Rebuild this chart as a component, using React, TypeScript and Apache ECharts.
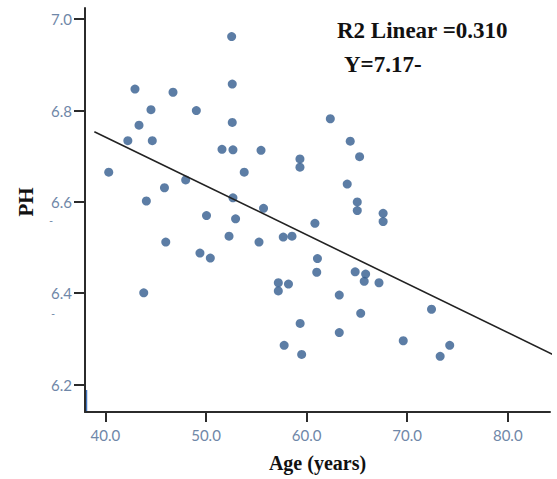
import React, { useEffect, useRef } from "react";
import * as echarts from "echarts";

const ages = [52.55, 42.94, 46.72, 52.61, 44.53, 49.04, 43.34, 52.61, 42.23, 44.66, 51.59, 52.68, 55.47, 40.33, 53.8, 47.98, 45.87, 52.68, 44.07, 55.72, 50.05, 52.94, 46.0, 49.4, 50.43, 52.29, 55.27, 43.81, 62.36, 64.34, 65.27, 59.34, 59.34, 64.04, 65.04, 65.04, 67.61, 67.61, 60.83, 57.68, 58.55, 61.08, 61.01, 64.83, 65.87, 65.73, 67.2, 57.19, 57.19, 58.2, 63.25, 72.42, 65.38, 59.36, 63.25, 69.61, 74.23, 57.77, 73.28, 59.51];
const phValues = [6.962, 6.847, 6.84, 6.858, 6.802, 6.8, 6.768, 6.774, 6.734, 6.734, 6.715, 6.714, 6.713, 6.665, 6.665, 6.648, 6.631, 6.609, 6.602, 6.586, 6.57, 6.563, 6.512, 6.488, 6.477, 6.525, 6.512, 6.401, 6.782, 6.733, 6.699, 6.694, 6.676, 6.639, 6.6, 6.581, 6.575, 6.557, 6.553, 6.523, 6.525, 6.476, 6.446, 6.447, 6.442, 6.426, 6.423, 6.423, 6.405, 6.42, 6.396, 6.365, 6.356, 6.334, 6.314, 6.296, 6.286, 6.286, 6.262, 6.266];

const xTicks = [40, 50, 60, 70, 80];
const yTicks = [6.2, 6.4, 6.6, 6.8, 7.0];

const fitIntercept = 7.17;
const fitSlope = -0.0107;
const fitRange = [38.9, 84.9];

const labelColor = "#6f87a8";

export default function App() {
  const ref = useRef<HTMLDivElement>(null);
  useEffect(() => {
    if (!ref.current) return;
    const chart = echarts.init(ref.current, null, { renderer: "svg" });
    const points = ages.map((a, i) => [a, phValues[i]]);
    const fitLine = fitRange.map((x) => [x, fitIntercept + fitSlope * x]);
    chart.setOption({
      animation: false,
      backgroundColor: "#ffffff",
      grid: { left: 85, right: 7, top: 8, bottom: 67, containLabel: false },
      xAxis: {
        type: "value",
        min: 37.97,
        max: 84.2,
        name: "Age (years)",
        nameLocation: "middle",
        nameGap: 41,
        nameTextStyle: { fontFamily: "Liberation Serif", fontWeight: "bold", fontSize: 20, color: "#111" },
        splitLine: { show: false },
        axisLine: { show: true, lineStyle: { color: "#2b2b2b", width: 2 } },
        axisTick: { show: true, customValues: xTicks, length: 10, lineStyle: { color: "#2b2b2b", width: 2 } },
        axisLabel: {
          customValues: xTicks,
          margin: 15,
          fontSize: 15,
          fontFamily: "Lato",
          color: labelColor,
          formatter: (v: number) => v.toFixed(1),
        },
      },
      yAxis: {
        type: "value",
        min: 6.14,
        max: 7.0245,
        splitLine: { show: false },
        axisLine: { show: true, lineStyle: { color: "#2b2b2b", width: 2 } },
        axisTick: { show: true, customValues: yTicks, length: 11, lineStyle: { color: "#2b2b2b", width: 2 } },
        axisLabel: {
          customValues: yTicks,
          margin: 13,
          fontSize: 15,
          fontFamily: "Lato",
          color: labelColor,
          formatter: (v: number) => v.toFixed(1),
        },
      },
      series: [
        {
          type: "scatter",
          data: points,
          symbol: "circle",
          symbolSize: 9,
          itemStyle: { color: "#335d8f" },
        },
        {
          type: "line",
          data: fitLine,
          clip: false,
          symbol: "none",
          lineStyle: { color: "#222222", width: 1.6 },
        },
      ],
      graphic: [
        {
          type: "text",
          x: 26,
          y: 202,
          rotation: Math.PI / 2,
          style: {
            text: "PH",
            fontFamily: "Liberation Serif",
            fontWeight: "bold",
            fontSize: 21,
            fill: "#111",
            textAlign: "center",
            textVerticalAlign: "middle",
          },
        },
        {
          type: "text",
          x: 337,
          y: 30,
          style: {
            text: "R2 Linear =0.310",
            fontFamily: "Liberation Serif",
            fontWeight: "bold",
            fontSize: 23,
            fill: "#111",
            textAlign: "left",
            textVerticalAlign: "middle",
          },
        },
        {
          type: "text",
          x: 344,
          y: 64,
          style: {
            text: "Y=7.17-",
            fontFamily: "Liberation Serif",
            fontWeight: "bold",
            fontSize: 23,
            fill: "#111",
            textAlign: "left",
            textVerticalAlign: "middle",
          },
        },
        {
          type: "text",
          x: 51,
          y: 220,
          style: { text: "-", fontSize: 11, fill: labelColor, textAlign: "center", textVerticalAlign: "middle" },
        },
        {
          type: "text",
          x: 53,
          y: 313,
          style: { text: "-", fontSize: 11, fill: labelColor, textAlign: "center", textVerticalAlign: "middle" },
        },
        {
          type: "line",
          shape: { x1: 74, y1: 19, x2: 85, y2: 19 },
          style: { stroke: "#4f7fbf", lineWidth: 2 },
        },
        {
          type: "line",
          shape: { x1: 86.5, y1: 390, x2: 86.5, y2: 411 },
          style: { stroke: "#3f74c0", lineWidth: 1.5 },
        },
      ],
    });
    return () => chart.dispose();
  }, []);
  return (
    <div
      ref={ref}
      style={{ position: "fixed", left: 0, top: 0, width: 557, height: 479, background: "#fff" }}
    />
  );
}
